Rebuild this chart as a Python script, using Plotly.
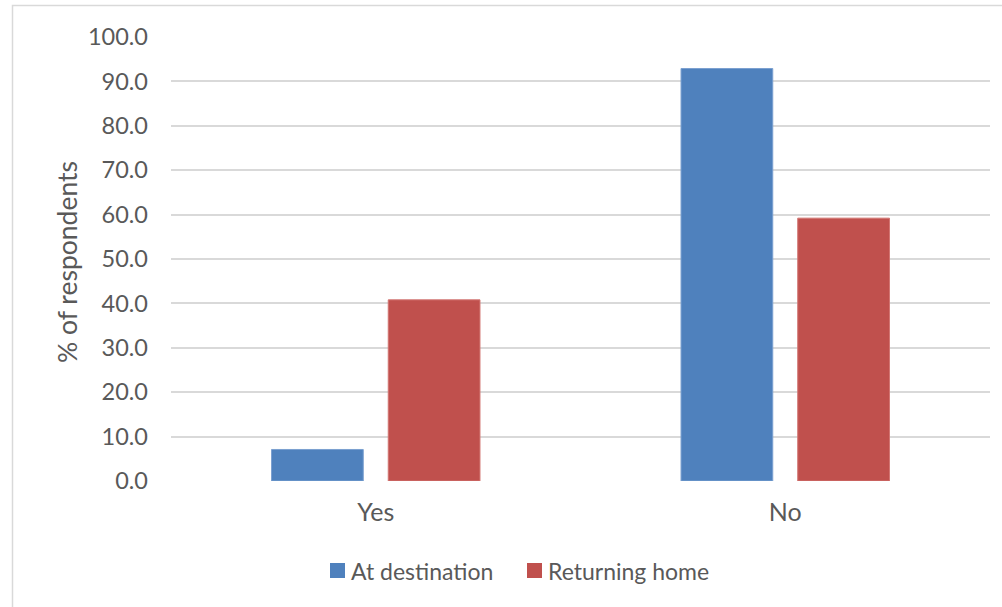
import plotly.graph_objects as go

categories = ["Yes", "No"]
at_destination = [7.1, 92.9]
returning_home = [40.8, 59.2]
series_names = ["At destination", "Returning home"]
series_colors = ["#4F81BD", "#C0504D"]
y_ticks = [0, 10, 20, 30, 40, 50, 60, 70, 80, 90, 100]
y_tick_labels = [f"{v:.1f}" for v in y_ticks]

FONT = "Lato, 'Open Sans', sans-serif"
TXT = "#595959"
GRID = "#D9D9D9"

# plot area in pixels (used to place frame and legend in paper units)
L, R, T, B = 171, 990, 37, 481
W, H = R - L, B - T


def px(x):
    return (x - L) / W


def py(y):
    return (B - y) / H


fig = go.Figure()
fig.add_trace(go.Bar(
    name=series_names[0], x=categories, y=at_destination,
    marker=dict(color=series_colors[0], line=dict(color="#7BA0D0", width=1)),
))
fig.add_trace(go.Bar(
    name=series_names[1], x=categories, y=returning_home,
    marker=dict(color=series_colors[1], line=dict(color="#D27572", width=1)),
))

# light chart frame (top and left edges visible)
fig.add_shape(type="rect", xref="paper", yref="paper",
              x0=px(12.5), x1=px(1100), y0=py(700), y1=py(5.5),
              line=dict(color=GRID, width=1.5), layer="below")

fig.add_annotation(text="% of respondents", xref="paper", yref="paper",
                   x=px(67), y=py(262), textangle=-90, showarrow=False,
                   font=dict(family=FONT, size=26.5, color=TXT),
                   xanchor="center", yanchor="middle")

# legend: colour squares with series names
legend_boxes = [330, 527]
for name, color, bx in zip(series_names, series_colors, legend_boxes):
    fig.add_shape(type="rect", xref="paper", yref="paper",
                  x0=px(bx), x1=px(bx + 15), y0=py(578), y1=py(563),
                  fillcolor=color, line=dict(width=0))
    fig.add_annotation(text=name, xref="paper", yref="paper",
                       x=px(bx + 19), y=py(571), showarrow=False,
                       xanchor="left", yanchor="middle",
                       font=dict(family=FONT, size=23, color=TXT))

fig.update_layout(
    width=1002, height=607,
    margin=dict(l=L, r=1002 - R, t=T, b=607 - B),
    paper_bgcolor="white", plot_bgcolor="white",
    barmode="group", bargap=0.43, bargroupgap=0.214,
    font=dict(family=FONT, size=24, color=TXT),
    showlegend=False,
    xaxis=dict(showgrid=False, showline=False, ticks="", zeroline=False,
               ticklabelstandoff=14, tickfont=dict(family=FONT, size=25, color=TXT)),
    yaxis=dict(range=[0, 100], tickvals=y_ticks, ticktext=y_tick_labels,
               showgrid=True, gridcolor=GRID, gridwidth=1.5, zeroline=False,
               showline=False, ticks="", ticklabelstandoff=22,
               tickfont=dict(family=FONT, size=23.5, color=TXT)),
)

fig.write_html("out.html")
